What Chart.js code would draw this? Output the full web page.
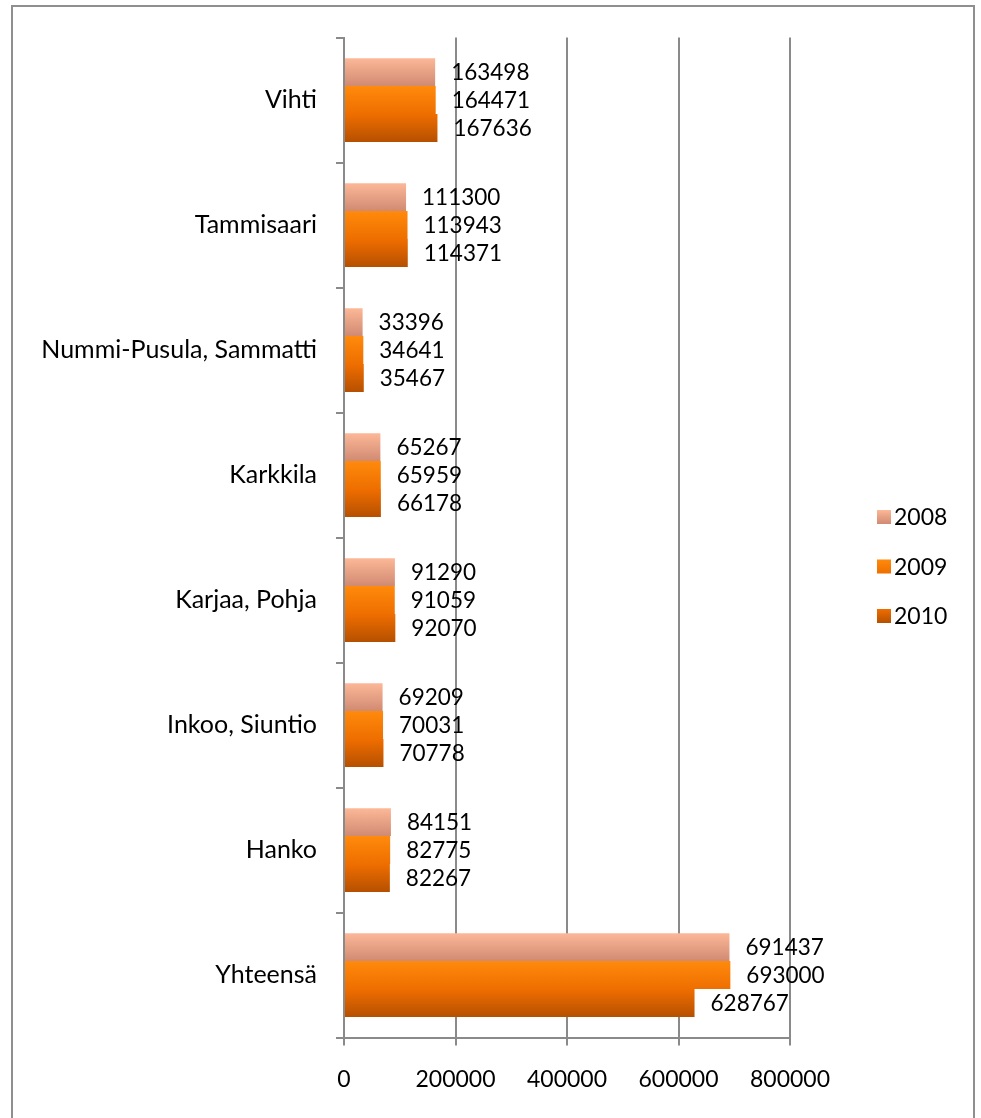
<!DOCTYPE html>
<html>
<head>
<meta charset="utf-8">
<script src="https://cdn.jsdelivr.net/npm/chart.js@4/dist/chart.umd.min.js"></script>
<style>
    body { margin: 0; background: #fff; }
    #marco {
        position: absolute; left: 11px; top: 5px;
        width: 960px; height: 1200px;
        border: 2px solid #8f8f8f;
    }
    #grafico { position: absolute; left: 0; top: 0; }
</style>
</head>
<body>
<div id="marco"></div>
<canvas id="grafico" width="981" height="1118"></canvas>
<script>
// Datos
const categorias = ['Vihti', 'Tammisaari', 'Nummi-Pusula, Sammatti', 'Karkkila',
    'Karjaa, Pohja', 'Inkoo, Siuntio', 'Hanko', 'Yhteensä'];
const anios = ['2008', '2009', '2010'];
const valores2008 = [163498, 111300, 33396, 65267, 91290, 69209, 84151, 691437];
const valores2009 = [164471, 113943, 34641, 65959, 91059, 70031, 82775, 693000];
const valores2010 = [167636, 114371, 35467, 66178, 92070, 70778, 82267, 628767];
const ticksX = [0, 200000, 400000, 600000, 800000];

// Colores (arriba / abajo del degradado)
const colores = [
    ['#fdb898', '#cf8a72'],
    ['#ff8a0c', '#ee6f00'],
    ['#f06e00', '#b65000']
];
const grisEje = '#8a8a8a';
const PORC_CATEGORIA = 0.67;

Chart.defaults.font.family = 'Lato, "Open Sans", sans-serif';

function relleno(ctx) {
    const [arriba, abajo] = colores[ctx.datasetIndex];
    const chart = ctx.chart;
    const y = chart.scales && chart.scales.y;
    if (!y || !chart.chartArea || ctx.type !== 'data') return abajo;
    const centro = y.getPixelForValue(ctx.dataIndex);
    const paso = Math.abs(y.getPixelForValue(1) - y.getPixelForValue(0));
    const grosor = paso * PORC_CATEGORIA / 3;
    const y0 = centro - 1.5 * grosor + ctx.datasetIndex * grosor;
    const g = chart.ctx.createLinearGradient(0, y0, 0, y0 + grosor);
    g.addColorStop(0, arriba);
    g.addColorStop(1, abajo);
    return g;
}

// Etiquetas de valores al final de cada barra
const etiquetasValores = {
    id: 'etiquetasValores',
    afterDatasetsDraw(chart) {
        const ctx = chart.ctx;
        ctx.save();
        ctx.font = '22.5px Lato, "Open Sans", sans-serif';
        ctx.fillStyle = '#000';
        ctx.textAlign = 'left';
        ctx.textBaseline = 'middle';
        chart.data.datasets.forEach((ds, i) => {
            chart.getDatasetMeta(i).data.forEach((barra, j) => {
                ctx.fillText(String(ds.data[j]), barra.x + 16, barra.y + 1);
            });
        });
        ctx.restore();
    }
};

// Leyenda a la derecha
const leyenda = {
    id: 'leyenda',
    afterDraw(chart) {
        const ctx = chart.ctx;
        ctx.save();
        ctx.font = '23px Lato, "Open Sans", sans-serif';
        ctx.textBaseline = 'middle';
        ctx.fillStyle = '#000';
        chart.data.datasets.forEach((ds, i) => {
            const yc = 517 + i * 49.5;
            const g = ctx.createLinearGradient(0, yc - 7, 0, yc + 7);
            g.addColorStop(0, colores[i][0]);
            g.addColorStop(1, colores[i][1]);
            ctx.fillStyle = g;
            ctx.fillRect(877, yc - 7, 14, 14);
            ctx.fillStyle = '#000';
            ctx.fillText(ds.label, 894, yc + 1);
        });
        ctx.restore();
    }
};

const datasets = [valores2008, valores2009, valores2010].map((datos, i) => ({
    label: anios[i],
    data: datos,
    backgroundColor: relleno,
    borderWidth: 0,
    categoryPercentage: PORC_CATEGORIA,
    barPercentage: 1.0
}));

new Chart(document.getElementById('grafico'), {
    type: 'bar',
    data: { labels: categorias, datasets: datasets },
    plugins: [etiquetasValores, leyenda],
    options: {
        indexAxis: 'y',
        responsive: false,
        animation: false,
        layout: { padding: { top: 37.5, right: 191, bottom: 20.5, left: 0 } },
        plugins: {
            legend: { display: false },
            tooltip: { enabled: false }
        },
        scales: {
            x: {
                min: 0,
                max: 800000,
                afterBuildTicks: (escala) => {
                    escala.ticks = ticksX.map(v => ({ value: v }));
                },
                afterFit: (escala) => { escala.height = 60; },
                grid: { color: grisEje, lineWidth: 2, tickLength: 8 },
                border: { color: grisEje, width: 2 },
                ticks: {
                    color: '#000',
                    padding: 20,
                    maxRotation: 0,
                    font: { size: 23 },
                    callback: (v) => String(v)
                }
            },
            y: {
                afterFit: (escala) => { escala.width = 344; },
                grid: {
                    offset: true,
                    drawOnChartArea: false,
                    color: grisEje,
                    lineWidth: 2,
                    tickLength: 8
                },
                border: { color: grisEje, width: 2 },
                ticks: { color: '#000', padding: 19, font: { size: 25 } }
            }
        }
    }
});
</script>
</body>
</html>
